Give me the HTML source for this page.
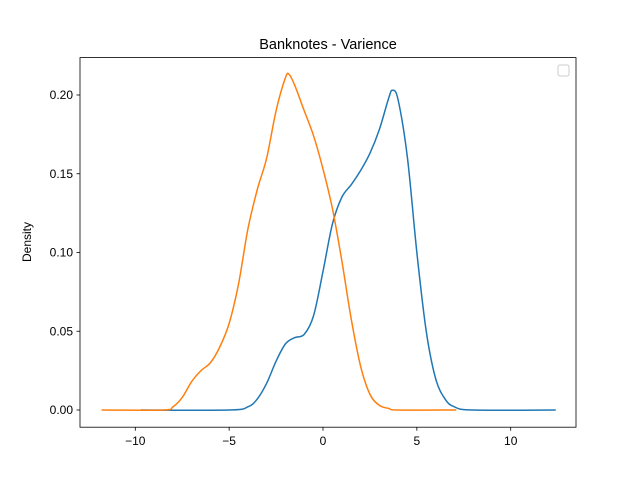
<!DOCTYPE html>
<html><head><meta charset="utf-8"><style>
body{margin:0;background:#fff}
svg{display:block;font-family:"Liberation Sans","DejaVu Sans",sans-serif}
</style></head><body>
<svg id="chart" width="640" height="480" viewBox="0 0 640 480">
<rect width="640" height="480" fill="#fff"/>
<text x="328" y="49" font-size="14.5" text-anchor="middle">Banknotes - Varience</text>
<text transform="translate(31,242) rotate(-90)" font-size="12" text-anchor="middle">Density</text>
<g id="axes"></g>
<g id="series"></g>
<rect x="80" y="57.6" width="496" height="369.6" fill="none" stroke="#000" stroke-width="0.8"/>
<rect x="558" y="65" width="11" height="11" rx="2" fill="#fff" stroke="#ccc" stroke-width="1"/>
</svg>
<script>
const xTicks=[-10,-5,0,5,10];
const yTicks=[0,0.05,0.10,0.15,0.20];
const yTickLabels=["0.00","0.05","0.10","0.15","0.20"];
const blueX=[-9.7,-5,-4,-3.5,-3,-2.5,-2,-1.5,-1,-0.5,0,0.5,1,1.5,2,2.5,3,3.5,3.7,4,4.5,5,5.5,6,6.5,7,8,12.4];
const blueY=[0,0,0.002,0.007,0.017,0.031,0.042,0.046,0.048,0.06,0.088,0.118,0.135,0.143,0.152,0.163,0.178,0.198,0.203,0.197,0.16,0.1,0.05,0.02,0.007,0.002,0,0];
const orangeX=[-11.8,-8.5,-8,-7.5,-7,-6.5,-6,-5.5,-5,-4.5,-4,-3.5,-3,-2.5,-2,-1.8,-1.5,-1,-0.5,0,0.5,1,1.5,2,2.5,3,3.5,4,7.1];
const orangeY=[0,0,0.002,0.008,0.018,0.025,0.03,0.04,0.055,0.08,0.115,0.14,0.16,0.19,0.211,0.213,0.206,0.19,0.174,0.153,0.128,0.095,0.058,0.028,0.01,0.003,0.001,0,0];
const X=v=>323+v*18.77;
const Y=v=>410-v*1575;
const NS="http://www.w3.org/2000/svg";
const axes=document.getElementById('axes'),series=document.getElementById('series');
function mk(t,a,p){const e=document.createElementNS(NS,t);for(const k in a)e.setAttribute(k,a[k]);p.appendChild(e);return e;}
xTicks.forEach(t=>{
 const l=mk('line',{x1:X(t),x2:X(t),y1:427.2,y2:430.7,stroke:'#000','stroke-width':0.8},axes);
 
 
 const s=mk('text',{x:X(t),y:445,'font-size':12,'text-anchor':'middle'},axes);s.textContent=(t<0?'\u2212'+(-t):t);
 
 
});
yTicks.forEach((t,i)=>{
 const l=mk('line',{x1:76.5,x2:80,y1:Y(t),y2:Y(t),stroke:'#000','stroke-width':0.8},axes);
 
 
 const s=mk('text',{x:73,y:Y(t)+4,'font-size':12,'text-anchor':'end'},axes);s.textContent=yTickLabels[i];
 
 
});
function path(xs,ys){
 const p=xs.map((x,i)=>[X(x),Y(ys[i])]);
 let d='M'+p[0][0]+','+p[0][1];
 for(let i=0;i<p.length-1;i++){
  const p0=p[Math.max(0,i-1)],p1=p[i],p2=p[i+1],p3=p[Math.min(p.length-1,i+2)];
  const c1=[p1[0]+(p2[0]-p0[0])/6,p1[1]+(p2[1]-p0[1])/6],c2=[p2[0]-(p3[0]-p1[0])/6,p2[1]-(p3[1]-p1[1])/6];
  d+=`C${c1[0]},${c1[1]} ${c2[0]},${c2[1]} ${p2[0]},${p2[1]}`;
 }
 return d;
}
const b=mk('path',{d:path(blueX,blueY),fill:'none',stroke:'#1f77b4','stroke-width':1.5},series);


const o=mk('path',{d:path(orangeX,orangeY),fill:'none',stroke:'#ff7f0e','stroke-width':1.5},series);


</script>
</body></html>
